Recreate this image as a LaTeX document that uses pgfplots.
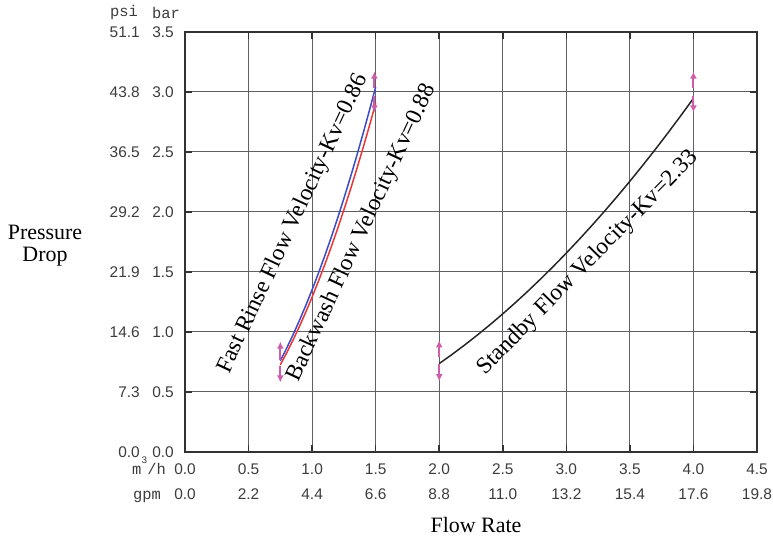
\documentclass[border=0pt]{standalone}
\usepackage{pgfplots}
\pgfplotsset{compat=1.18}
\usepackage{fontspec}
\setmainfont{Liberation Serif}
\newfontfamily\arialf{Liberation Sans}
\newfontfamily\courf{Liberation Mono}
\usetikzlibrary{arrows.meta}
\definecolor{gridc}{RGB}{95,95,100}
\definecolor{framec}{RGB}{50,50,50}
\definecolor{labc}{RGB}{60,60,60}
\definecolor{arrc}{RGB}{205,95,170}
\definecolor{bluec}{RGB}{60,75,200}
\definecolor{redc}{RGB}{235,55,55}
\begin{document}
\begin{tikzpicture}
\useasboundingbox (0,0) rectangle (773bp,544bp);
\begin{axis}[
  at={(185bp,92bp)}, anchor=south west,
  scale only axis, width=572bp, height=420bp,
  xmin=0, xmax=4.5, ymin=0, ymax=3.5,
  xtick={0,0.5,1,1.5,2,2.5,3,3.5,4,4.5},
  ytick={0,0.5,1,1.5,2,2.5,3,3.5},
  xticklabels={{0.0\\0.0},{0.5\\2.2},{1.0\\4.4},{1.5\\6.6},{2.0\\8.8},{2.5\\11.0},{3.0\\13.2},{3.5\\15.4},{4.0\\17.6},{4.5\\19.8}},
  yticklabels={
    {\makebox[31bp][r]{0.0}\hspace{12bp}\makebox[22bp][r]{0.0}},
    {\makebox[31bp][r]{7.3}\hspace{12bp}\makebox[22bp][r]{0.5}},
    {\makebox[31bp][r]{14.6}\hspace{12bp}\makebox[22bp][r]{1.0}},
    {\makebox[31bp][r]{21.9}\hspace{12bp}\makebox[22bp][r]{1.5}},
    {\makebox[31bp][r]{29.2}\hspace{12bp}\makebox[22bp][r]{2.0}},
    {\makebox[31bp][r]{36.5}\hspace{12bp}\makebox[22bp][r]{2.5}},
    {\makebox[31bp][r]{43.8}\hspace{12bp}\makebox[22bp][r]{3.0}},
    {\makebox[31bp][r]{51.1}\hspace{12bp}\makebox[22bp][r]{3.5}}},
  grid=major, grid style={gridc, line width=1bp},
  axis line style={framec, line width=1.8bp},
  tick align=inside, major tick length=7bp, tick style={framec, line width=1.5bp},
  xticklabel style={font=\arialf\fontsize{15.5}{25}\selectfont, align=center, anchor=north, inner sep=0pt, yshift=-12bp, text=labc},
  yticklabel style={font=\arialf\fontsize{15.5}{18}\selectfont, anchor=east, inner sep=0pt, xshift=-11bp, text=labc},
  arr/.style={arrc, line width=2bp, no marks, -{Latex[length=7bp,width=7bp]}},
]
% Fast Rinse, Kv = 0.86
\addplot[bluec, line width=1.5bp, no marks] coordinates {
 (0.75,0.7606) (0.80,0.8653) (0.85,0.9769) (0.90,1.0952) (0.95,1.2202)
 (1.00,1.3521) (1.05,1.4907) (1.10,1.6360) (1.15,1.7881) (1.20,1.9470)
 (1.25,2.1126) (1.30,2.2850) (1.35,2.4642) (1.40,2.6501) (1.45,2.8428) (1.50,3.0422)};
% Backwash, Kv = 0.88
\addplot[redc, line width=1.5bp, no marks] coordinates {
 (0.75,0.7264) (0.80,0.8265) (0.85,0.9330) (0.90,1.0460) (0.95,1.1654)
 (1.00,1.2913) (1.05,1.4237) (1.10,1.5625) (1.15,1.7078) (1.20,1.8595)
 (1.25,2.0177) (1.30,2.1823) (1.35,2.3534) (1.40,2.5310) (1.45,2.7150) (1.50,2.9055)};
% Standby, Kv = 2.33
\addplot[black!85, line width=1.5bp, no marks] coordinates {
 (2.0,0.7368) (2.1,0.8123) (2.2,0.8915) (2.3,0.9744) (2.4,1.0610)
 (2.5,1.1512) (2.6,1.2452) (2.7,1.3428) (2.8,1.4441) (2.9,1.5491)
 (3.0,1.6578) (3.1,1.7702) (3.2,1.8862) (3.3,2.0059) (3.4,2.1293)
 (3.5,2.2564) (3.6,2.3872) (3.7,2.5217) (3.8,2.6598) (3.9,2.8017) (4.0,2.9472)};
% end-point arrows
\addplot[arr] coordinates {(0.75,0.77) (0.75,0.92)};
\addplot[arr] coordinates {(0.75,0.72) (0.75,0.58)};
\addplot[arr] coordinates {(1.49,3.03) (1.49,3.17)};
\addplot[arr] coordinates {(1.49,2.97) (1.49,2.83)};
\addplot[arr] coordinates {(2.0,0.79) (2.0,0.93)};
\addplot[arr] coordinates {(2.0,0.73) (2.0,0.59)};
\addplot[arr] coordinates {(4.0,3.03) (4.0,3.17)};
\addplot[arr] coordinates {(4.0,2.97) (4.0,2.83)};
\node[rotate=65, font=\fontsize{23.5}{25}\selectfont] at (axis cs:0.85,1.90) {Fast Rinse Flow Velocity-Kv=0.86};
\node[rotate=65, font=\fontsize{23.5}{25}\selectfont] at (axis cs:1.393,1.825) {Backwash Flow Velocity-Kv=0.88};
\node[rotate=45.5, font=\fontsize{23.5}{25}\selectfont] at (axis cs:3.171,1.575) {Standby Flow Velocity-Kv=2.33};
\end{axis}
\node[font=\courf\fontsize{15.5}{18}\selectfont, text=labc] at (124bp,531bp) {psi};
\node[font=\courf\fontsize{15.5}{18}\selectfont, text=labc] at (166bp,531bp) {bar};
\node[font=\courf\fontsize{15.5}{18}\selectfont, text=labc, anchor=base east, inner sep=0pt] at (166bp,69bp) {m\raisebox{11bp}{\fontsize{10}{10}\selectfont 3}/h};
\node[font=\courf\fontsize{15.5}{18}\selectfont, text=labc, anchor=base east, inner sep=0pt] at (161bp,44bp) {gpm};
\node[font=\fontsize{22}{22}\selectfont, align=center] at (45bp,298bp) {Pressure\\Drop};
\node[font=\fontsize{22}{22}\selectfont] at (476bp,19bp) {Flow Rate};
\end{tikzpicture}
\end{document}
